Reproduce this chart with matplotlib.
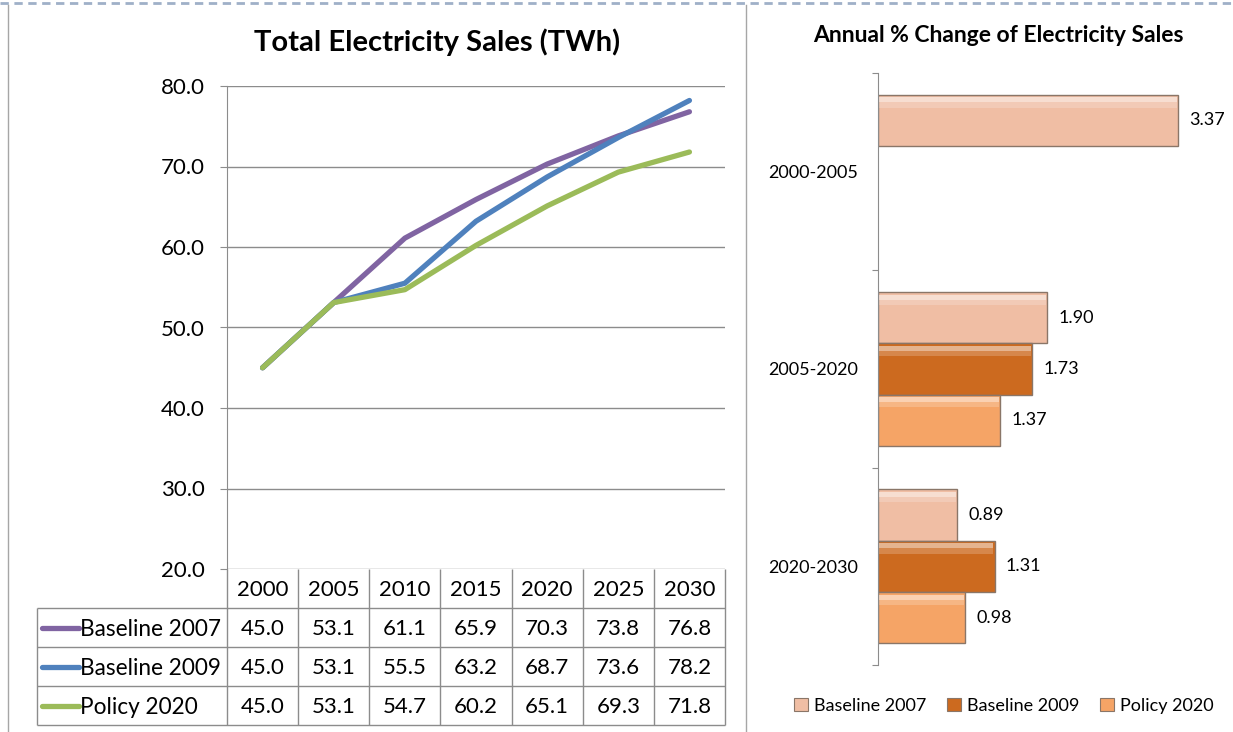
import numpy as np
import matplotlib
matplotlib.use('Agg')
import matplotlib.pyplot as plt
from matplotlib.patches import Patch
from matplotlib.lines import Line2D

plt.rcParams['font.family'] = ['Lato', 'DejaVu Sans']

# -----------------------------------------------------------------------------
# Data
# -----------------------------------------------------------------------------
years = ['2000', '2005', '2010', '2015', '2020', '2025', '2030']
series_names = ['Baseline 2007', 'Baseline 2009', 'Policy 2020']
baseline_2007 = [45.0, 53.1, 61.1, 65.9, 70.3, 73.8, 76.8]
baseline_2009 = [45.0, 53.1, 55.5, 63.2, 68.7, 73.6, 78.2]
policy_2020 = [45.0, 53.1, 54.7, 60.2, 65.1, 69.3, 71.8]

periods = ['2000-2005', '2005-2020', '2020-2030']
chg_baseline_2007 = [3.37, 1.90, 0.89]
chg_baseline_2009 = [np.nan, 1.73, 1.31]
chg_policy_2020 = [np.nan, 1.37, 0.98]

line_colors = ['#8064A2', '#4F81BD', '#9BBB59']
bar_colors = ['#F0BEA4', '#CC6A1F', '#F5A466']
grid_col = '#8c8c8c'

W, H = 1233, 732


def box(x0, y0, x1, y1):
    """pixel box (top-left origin) -> figure fraction rect"""
    return [x0 / W, 1 - y1 / H, (x1 - x0) / W, (y1 - y0) / H]


fig = plt.figure(figsize=(W / 100, H / 100), dpi=100)

# frame lines of the slide
fig.add_artist(Line2D([0, 1], [1 - 3 / H] * 2, color='#9fb0c8', lw=2,
                      ls=(0, (3, 2))))
fig.add_artist(Line2D([8 / W] * 2, [0, 1 - 5 / H], color='#a6a6a6', lw=1))
fig.add_artist(Line2D([746 / W] * 2, [0, 1 - 5 / H], color='#a6a6a6', lw=1))

# -----------------------------------------------------------------------------
# Left: line chart with data table
# -----------------------------------------------------------------------------
ax = fig.add_axes(box(227, 86, 725, 569))
x = np.arange(len(years))
for vals, col in zip([baseline_2007, baseline_2009, policy_2020], line_colors):
    ax.plot(x, vals, color=col, lw=3.8, solid_capstyle='round',
            solid_joinstyle='round', zorder=3)
ax.set_xlim(-0.5, len(years) - 0.5)
ax.set_ylim(20, 80)
ax.set_yticks(np.arange(20, 81, 10))
ax.set_yticklabels([f'{v:.1f}' for v in np.arange(20, 81, 10)], fontsize=16)
ax.set_xticks([])
ax.yaxis.grid(True, color=grid_col, lw=1)
ax.tick_params(axis='y', length=5, color=grid_col, pad=11)
for s in ['top', 'right', 'bottom']:
    ax.spines[s].set_visible(False)
ax.spines['left'].set_color(grid_col)

fig.text(437 / W, 1 - 42 / H, 'Total Electricity Sales (TWh)', ha='center',
         va='center', fontsize=21, fontweight='bold')

# data table under the chart
tax = fig.add_axes(box(37, 569, 725, 725))
unit = 498 / len(years)
xl = -0.5 - 190 / unit
tax.set_xlim(xl, len(years) - 0.5)
tax.set_ylim(4, 0)
tax.axis('off')
tax.vlines(np.arange(-0.5, len(years)), 0, 4, color=grid_col, lw=1, clip_on=False)
tax.vlines(xl, 1, 4, color=grid_col, lw=1, clip_on=False)
tax.hlines([1, 2, 3, 4], xl, len(years) - 0.5, color=grid_col, lw=1, clip_on=False)
for i, yr in enumerate(years):
    tax.text(i, 0.55, yr, ha='center', va='center', fontsize=16)
for r, (name, vals, col) in enumerate(zip(series_names,
                                          [baseline_2007, baseline_2009, policy_2020],
                                          line_colors)):
    yc = r + 1.55
    for i, v in enumerate(vals):
        tax.text(i, yc, f'{v:.1f}', ha='center', va='center', fontsize=16)
    tax.plot([xl + 5 / unit, xl + 42 / unit], [r + 1.5] * 2, color=col, lw=3.8,
             solid_capstyle='round', clip_on=False)
    tax.text(xl + 43 / unit, yc, name, ha='left', va='center', fontsize=16.3)

# -----------------------------------------------------------------------------
# Right: horizontal bar chart
# -----------------------------------------------------------------------------
rax = fig.add_axes(box(878, 73, 1200, 665))
px_per_unit = 89.0
rax.set_xlim(0, 322 / px_per_unit)
rax.set_ylim(len(periods) - 0.5, -0.5)
bh = 0.26
ypos = np.arange(len(periods))
for k, (vals, col) in enumerate(zip([chg_baseline_2007, chg_baseline_2009,
                                     chg_policy_2020], bar_colors)):
    vals = np.array(vals, dtype=float)
    ok = ~np.isnan(vals)
    yk = ypos[ok] + (k - 1) * bh
    rax.barh(yk, vals[ok], height=bh, color=col, edgecolor='#8a7668', lw=1,
             zorder=2)
    # soft highlight along the top of each bar
    rax.barh(yk - bh * 0.40, vals[ok] - 0.03, height=bh * 0.10, left=0.015,
             color='white', alpha=0.5, lw=0, zorder=3)
    rax.barh(yk - bh * 0.30, vals[ok] - 0.03, height=bh * 0.10, left=0.015,
             color='white', alpha=0.2, lw=0, zorder=3)
    for yy, v in zip(yk, vals[ok]):
        rax.text(v + 0.125, yy, f'{v:.2f}', ha='left', va='center', fontsize=13)

rax.set_yticks(np.arange(-0.5, len(periods)))
rax.set_yticklabels([])
rax.set_yticks(ypos, minor=True)
rax.set_yticklabels(periods, minor=True, fontsize=13)
rax.tick_params(axis='y', which='major', length=4, color=grid_col)
rax.tick_params(axis='y', which='minor', length=0, pad=14)
rax.set_xticks([])
for s in ['top', 'right', 'bottom']:
    rax.spines[s].set_visible(False)
rax.spines['left'].set_color(grid_col)

fig.text(998 / W, 1 - 35 / H, 'Annual % Change of Electricity Sales',
         ha='center', va='center', fontsize=16.5, fontweight='bold')

handles = [Patch(facecolor=c, edgecolor='#8a7668', lw=0.8) for c in bar_colors]
fig.legend(handles, series_names, loc='center', bbox_to_anchor=(1004 / W, 1 - 706 / H),
           ncol=3, frameon=False, fontsize=13, handlelength=0.75,
           handleheight=0.75, handletextpad=0.35, columnspacing=1.15)

fig.savefig('out.png', dpi=100)
